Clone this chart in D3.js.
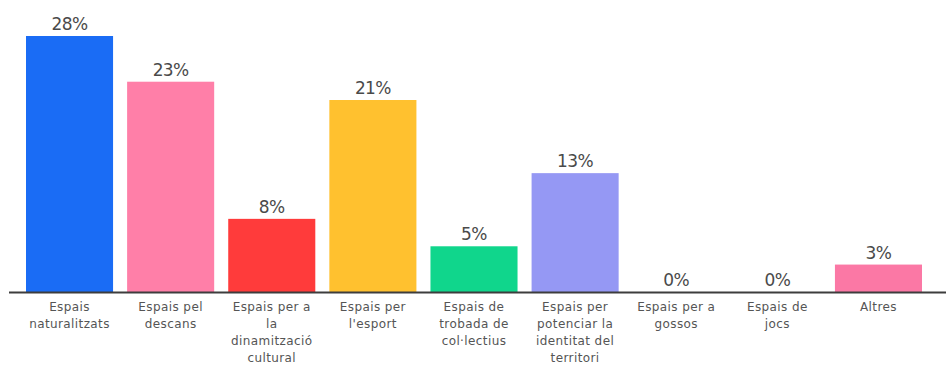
<!DOCTYPE html>
<html>
<head>
<meta charset="utf-8">
<script src="https://cdn.jsdelivr.net/npm/d3@7"></script>
<style>
  html, body { margin: 0; padding: 0; background: #fff; }
  svg { display: block; }
</style>
</head>
<body>
<svg id="chart" width="952" height="365"></svg>
<script>
// Categories (label lines) and percentages
const categories = [
  ["Espais", "naturalitzats"],
  ["Espais pel", "descans"],
  ["Espais per a", "la", "dinamització", "cultural"],
  ["Espais per", "l'esport"],
  ["Espais de", "trobada de", "col·lectius"],
  ["Espais per", "potenciar la", "identitat del", "territori"],
  ["Espais per a", "gossos"],
  ["Espais de", "jocs"],
  ["Altres"]
];
const values = [28, 23, 8, 21, 5, 13, 0, 0, 3];
const colors = ["#1a6cf5", "#ff7fa8", "#ff3b3b", "#ffc12f", "#10d68c", "#9598f4", "#ff7fa8", "#ff7fa8", "#fb78a5"];

const svg = d3.select("#chart");
const baseY = 292;

const x = d3.scaleBand()
  .domain(d3.range(values.length))
  .range([26, 922])
  .paddingInner(0.139)
  .paddingOuter(0);

const y = d3.scaleLinear().domain([0, 28]).range([baseY, 36]);

// Bars
svg.selectAll("rect.bar")
  .data(values)
  .join("rect")
  .attr("class", "bar")
  .attr("x", (d, i) => x(i))
  .attr("width", x.bandwidth())
  .attr("y", d => y(d))
  .attr("height", d => baseY - y(d))
  .attr("fill", (d, i) => colors[i]);

// Value labels
svg.selectAll("text.val")
  .data(values)
  .join("text")
  .attr("class", "val")
  .attr("x", (d, i) => x(i) + x.bandwidth() / 2)
  .attr("y", d => y(d) - 6)
  .attr("text-anchor", "middle")
  .attr("font-family", "DejaVu Sans, sans-serif")
  .attr("font-size", 17)
  .attr("letter-spacing", -0.6)
  .attr("fill", "#4a4a4a")
  .text(d => d + "%");

// Baseline axis
svg.append("line")
  .attr("x1", 9).attr("x2", 946)
  .attr("y1", baseY + 0.5).attr("y2", baseY + 0.5)
  .attr("stroke", "#3d3d3d")
  .attr("stroke-width", 2);

// Category labels
const cat = svg.selectAll("text.cat")
  .data(categories)
  .join("text")
  .attr("class", "cat")
  .attr("text-anchor", "middle")
  .attr("font-family", "DejaVu Sans, sans-serif")
  .attr("font-size", 12)
  .attr("letter-spacing", 0.4)
  .attr("fill", "#555");

cat.each(function (lines, i) {
  d3.select(this).selectAll("tspan")
    .data(lines)
    .join("tspan")
    .attr("x", x(i) + x.bandwidth() / 2)
    .attr("y", (l, j) => 311 + j * 17)
    .text(l => l);
});
</script>
</body>
</html>
